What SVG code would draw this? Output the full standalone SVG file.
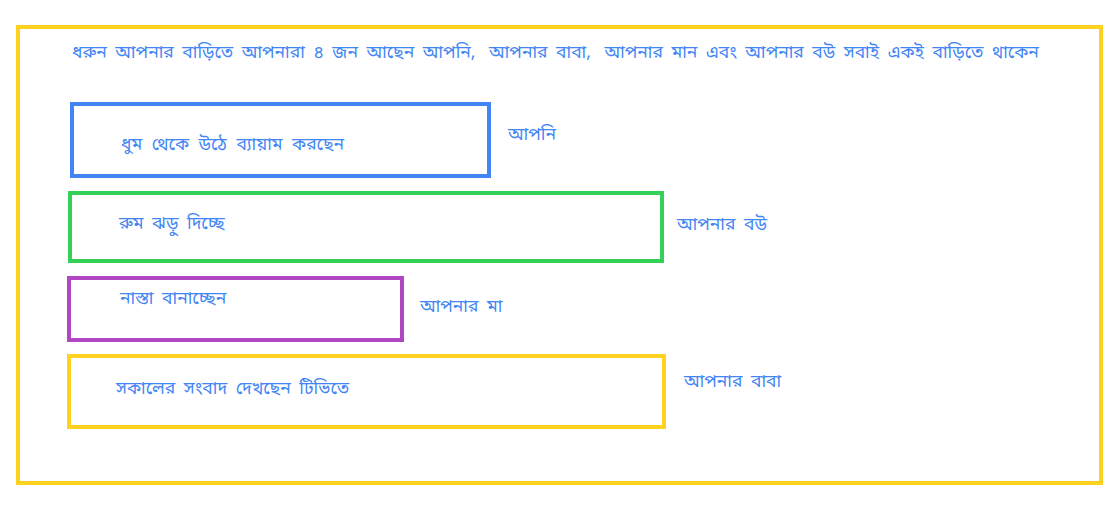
<svg xmlns="http://www.w3.org/2000/svg" width="1120" height="507" viewBox="0 0 1120 507">
<style>
.t{font-family:"Noto Sans Bengali","Noto Sans","Lohit Bengali",sans-serif;font-size:17.5px;fill:#4285F4;word-spacing:4px}
.box{fill:none;stroke-width:4}
</style>
<rect x="0" y="0" width="1120" height="507" fill="#ffffff"/>
<g id="house">
<rect class="box" x="18" y="27" width="1083" height="456" stroke="#FFD21F"/>
<text class="t" x="72" y="58">ধরুন আপনার বাড়িতে আপনারা ৪ জন আছেন আপনি, <tspan dx="5">আপনার বাবা, </tspan><tspan dx="5">আপনার মান এবং আপনার বউ সবাই একই বাড়িতে থাকেন</tspan></text>
</g>
<g id="node-apni">
<rect class="box" x="72" y="104" width="417" height="72" stroke="#4285F4"/>
<text class="t" x="121" y="150" style="word-spacing:5px">ধুম থেকে উঠে ব্যায়াম করছেন</text>
<text class="t" x="508" y="140">আপনি</text>
</g>
<g id="node-bou">
<rect class="box" x="70" y="193" width="592" height="68" stroke="#34D058"/>
<text class="t" x="119" y="229">রুম ঝড়ু দিচ্ছে</text>
<text class="t" x="677" y="230">আপনার বউ</text>
</g>
<g id="node-ma">
<rect class="box" x="69" y="278" width="333" height="62" stroke="#B146C2"/>
<text class="t" x="120" y="304">নাস্তা বানাচ্ছেন</text>
<text class="t" x="420" y="312">আপনার মা</text>
</g>
<g id="node-baba">
<rect class="box" x="69" y="356" width="595" height="71" stroke="#FFD21F"/>
<text class="t" x="116" y="394">সকালের সংবাদ দেখছেন টিভিতে</text>
<text class="t" x="684" y="387">আপনার বাবা</text>
</g>
<g id="connectors"></g>
</svg>
